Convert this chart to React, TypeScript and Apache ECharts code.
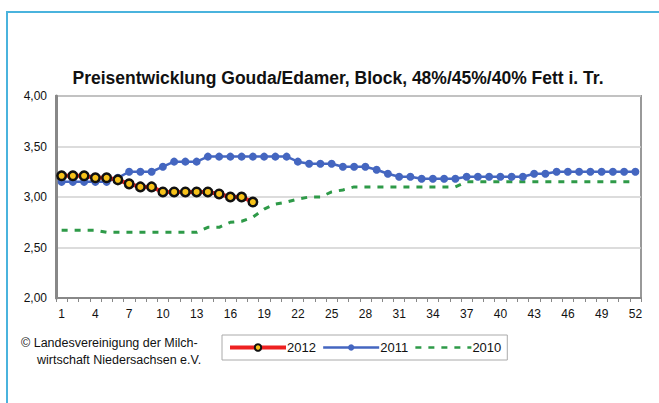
import React, { useEffect, useRef } from "react";
import * as echarts from "echarts";

const weeks = Array.from({ length: 52 }, (_, i) => String(i + 1));

const s2012 = [3.21, 3.21, 3.21, 3.19, 3.19, 3.17, 3.13, 3.1, 3.1, 3.05, 3.05, 3.05, 3.05, 3.05, 3.03, 3.0, 3.0, 2.95];

const s2011 = [
  3.15, 3.15, 3.15, 3.15, 3.15, 3.19, 3.25, 3.25, 3.25, 3.3,
  3.35, 3.35, 3.35, 3.4, 3.4, 3.4, 3.4, 3.4, 3.4, 3.4,
  3.4, 3.35, 3.33, 3.33, 3.33, 3.3, 3.3, 3.3, 3.27, 3.23,
  3.2, 3.2, 3.18, 3.18, 3.18, 3.18, 3.2, 3.2, 3.2, 3.2,
  3.2, 3.2, 3.23, 3.23, 3.25, 3.25, 3.25, 3.25, 3.25, 3.25,
  3.25, 3.25,
];

const s2010 = [
  2.67, 2.67, 2.67, 2.67, 2.65, 2.65, 2.65, 2.65, 2.65, 2.65,
  2.65, 2.65, 2.65, 2.7, 2.7, 2.75, 2.76, 2.8, 2.88, 2.93,
  2.95, 2.98, 3.0, 3.0, 3.05, 3.07, 3.1, 3.1, 3.1, 3.1,
  3.1, 3.1, 3.1, 3.1, 3.1, 3.1, 3.15, 3.15, 3.15, 3.15,
  3.15, 3.15, 3.15, 3.15, 3.15, 3.15, 3.15, 3.15, 3.15, 3.15,
  3.15, 3.15,
];

const titleText = "Preisentwicklung Gouda/Edamer, Block, 48%/45%/40% Fett i. Tr.";
const creditLines = ["© Landesvereinigung der Milch-", "wirtschaft Niedersachsen e.V."];

const FONT = "'Liberation Sans', Arial, sans-serif";

export default function App() {
  const ref = useRef<HTMLDivElement>(null);
  useEffect(() => {
    document.body.style.margin = "0";
    const chart = echarts.init(ref.current!, null, { renderer: "svg" });
    chart.setOption({
      animation: false,
      backgroundColor: "#ffffff",
      title: {
        text: titleText,
        left: 333,
        textAlign: "center",
        top: 64,
        textStyle: { fontFamily: FONT, fontSize: 17.5, fontWeight: "bold", color: "#111" },
      },
      grid: {
        left: 56,
        right: 18,
        top: 96,
        bottom: 105,
        show: true,
        borderColor: "#999",
        borderWidth: 2,
        backgroundColor: "#fff",
      },
      legend: {
        left: 222,
        top: 335,
        width: 290,
        itemWidth: 56,
        itemHeight: 8,
        itemGap: 6,
        padding: [6, 6, 6, 6],
        borderColor: "#aaa",
        borderWidth: 1,
        textStyle: { fontFamily: FONT, fontSize: 13, color: "#111", padding: [0, 0, 0, -4] },
        data: [
          { name: "2012", lineStyle: { width: 4 } },
          { name: "2011", lineStyle: { width: 2.5 } },
          { name: "2010", itemStyle: { opacity: 0 }, lineStyle: { width: 2.5 } },
        ],
      },
      xAxis: {
        type: "category",
        data: weeks,
        boundaryGap: true,
        axisLine: { lineStyle: { color: "#888", width: 2 } },
        axisTick: { show: true, interval: 0, length: 4, lineStyle: { color: "#888" } },
        axisLabel: { interval: 2, fontFamily: FONT, fontSize: 12, color: "#111", margin: 10 },
        splitLine: { show: false },
      },
      yAxis: {
        type: "value",
        min: 2,
        max: 4,
        interval: 0.5,
        axisLine: { show: true, lineStyle: { color: "#888", width: 3 } },
        axisTick: { show: false },
        axisLabel: {
          fontFamily: FONT,
          fontSize: 12,
          color: "#111",
          margin: 9,
          formatter: (v: number) => v.toFixed(2).replace(".", ","),
        },
        splitLine: { lineStyle: { color: "#d0d0d0", width: 1.5 } },
      },
      series: [
        {
          name: "2010",
          type: "line",
          data: s2010,
          symbol: "none",
          z: 2,
          lineStyle: { color: "#2e9a48", width: 3, type: [6, 7] },
          itemStyle: { color: "#2e9a48" },
        },
        {
          name: "2011",
          type: "line",
          data: s2011,
          symbol: "circle",
          symbolSize: 8,
          showAllSymbol: true,
          z: 3,
          lineStyle: { color: "#4466c0", width: 2.5 },
          itemStyle: { color: "#4466c0" },
        },
        {
          name: "2012",
          type: "line",
          data: s2012,
          symbol: "circle",
          symbolSize: 8.5,
          showAllSymbol: true,
          z: 4,
          lineStyle: { color: "#ee2020", width: 4 },
          itemStyle: { color: "#f7c21a", borderColor: "#111", borderWidth: 2.5 },
        },
      ],
      graphic: [
        {
          type: "rect",
          shape: { x: 7, y: 12, width: 700, height: 450 },
          style: { fill: "none", stroke: "#4ab3dd", lineWidth: 2 },
          silent: true,
        },
        {
          type: "text",
          x: 21,
          y: 336,
          style: { text: creditLines[0], font: `12.5px ${FONT}`, fill: "#111" },
        },
        {
          type: "text",
          x: 37,
          y: 353,
          style: { text: creditLines[1], font: `12.5px ${FONT}`, fill: "#111" },
        },
      ],
    });
    return () => chart.dispose();
  }, []);
  return <div ref={ref} style={{ width: 659, height: 403 }} />;
}
